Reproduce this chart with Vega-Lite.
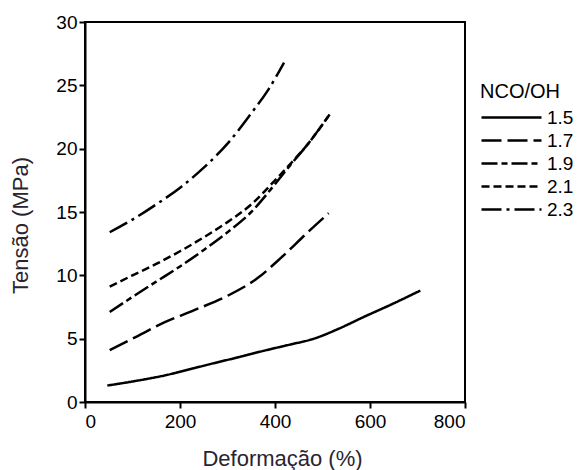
{
  "$schema": "https://vega.github.io/schema/vega-lite/v6.json",
  "width": 380,
  "height": 380,
  "autosize": {"type": "none"},
  "padding": {"left": 85, "top": 22, "right": 114, "bottom": 68},
  "background": "white",
  "config": {
    "view": {"stroke": "black", "strokeWidth": 2},
    "axis": {
      "grid": false,
      "domainColor": "black",
      "domainWidth": 2,
      "tickColor": "black",
      "tickWidth": 2,
      "tickSize": 6,
      "labelFont": "Liberation Sans Narrow, Arial Narrow, Liberation Sans",
      "labelFontSize": 19,
      "labelColor": "black",
      "titleFont": "Liberation Sans, Arial",
      "titleFontSize": 22,
      "titleFontWeight": "normal",
      "titleColor": "#2a2430"
    },
    "legend": {
      "titleFont": "Liberation Sans Narrow, Arial Narrow, Liberation Sans",
      "labelFont": "Liberation Sans Narrow, Arial Narrow, Liberation Sans",
      "titleFontSize": 20,
      "titleFontWeight": "normal",
      "labelFontSize": 19,
      "titleColor": "black",
      "labelColor": "black"
    }
  },
  "data": {
    "values": [
      {"ratio": "1.5", "x": 47, "y": 1.3},
      {"ratio": "1.5", "x": 100, "y": 1.62},
      {"ratio": "1.5", "x": 168, "y": 2.1},
      {"ratio": "1.5", "x": 220, "y": 2.58},
      {"ratio": "1.5", "x": 273, "y": 3.08},
      {"ratio": "1.5", "x": 330, "y": 3.6},
      {"ratio": "1.5", "x": 377, "y": 4.05},
      {"ratio": "1.5", "x": 430, "y": 4.52},
      {"ratio": "1.5", "x": 482, "y": 5.0},
      {"ratio": "1.5", "x": 535, "y": 5.8},
      {"ratio": "1.5", "x": 586, "y": 6.7},
      {"ratio": "1.5", "x": 645, "y": 7.7},
      {"ratio": "1.5", "x": 706, "y": 8.8},

      {"ratio": "1.7", "x": 52, "y": 4.1},
      {"ratio": "1.7", "x": 100, "y": 5.0},
      {"ratio": "1.7", "x": 168, "y": 6.3},
      {"ratio": "1.7", "x": 230, "y": 7.25},
      {"ratio": "1.7", "x": 301, "y": 8.4},
      {"ratio": "1.7", "x": 364, "y": 9.8},
      {"ratio": "1.7", "x": 413, "y": 11.4},
      {"ratio": "1.7", "x": 469, "y": 13.4},
      {"ratio": "1.7", "x": 513, "y": 14.9},

      {"ratio": "1.9", "x": 52, "y": 7.1},
      {"ratio": "1.9", "x": 100, "y": 8.3},
      {"ratio": "1.9", "x": 150, "y": 9.5},
      {"ratio": "1.9", "x": 200, "y": 10.7},
      {"ratio": "1.9", "x": 250, "y": 12.0},
      {"ratio": "1.9", "x": 300, "y": 13.4},
      {"ratio": "1.9", "x": 350, "y": 15.0},
      {"ratio": "1.9", "x": 400, "y": 17.2},
      {"ratio": "1.9", "x": 430, "y": 18.6},
      {"ratio": "1.9", "x": 470, "y": 20.4},
      {"ratio": "1.9", "x": 515, "y": 22.7},

      {"ratio": "2.1", "x": 52, "y": 9.1},
      {"ratio": "2.1", "x": 100, "y": 10.0},
      {"ratio": "2.1", "x": 150, "y": 10.9},
      {"ratio": "2.1", "x": 200, "y": 11.9},
      {"ratio": "2.1", "x": 250, "y": 13.0},
      {"ratio": "2.1", "x": 300, "y": 14.2},
      {"ratio": "2.1", "x": 350, "y": 15.6},
      {"ratio": "2.1", "x": 400, "y": 17.5},
      {"ratio": "2.1", "x": 430, "y": 18.7},
      {"ratio": "2.1", "x": 470, "y": 20.4},
      {"ratio": "2.1", "x": 515, "y": 22.7},

      {"ratio": "2.3", "x": 52, "y": 13.4},
      {"ratio": "2.3", "x": 100, "y": 14.4},
      {"ratio": "2.3", "x": 150, "y": 15.6},
      {"ratio": "2.3", "x": 203, "y": 17.0},
      {"ratio": "2.3", "x": 250, "y": 18.5},
      {"ratio": "2.3", "x": 300, "y": 20.4},
      {"ratio": "2.3", "x": 350, "y": 22.8},
      {"ratio": "2.3", "x": 385, "y": 24.6},
      {"ratio": "2.3", "x": 419, "y": 26.8}
    ]
  },
  "mark": {"type": "line", "color": "black", "strokeWidth": 2.5, "interpolate": "monotone"},
  "encoding": {
    "x": {
      "field": "x", "type": "quantitative",
      "scale": {"domain": [0, 800], "nice": false},
      "axis": {"values": [0, 200, 400, 600, 800], "title": "Deformação (%)", "labelPadding": 4,
               "titleX": 197, "titleY": 56, "titleBaseline": "middle", "titleAlign": "center"}
    },
    "y": {
      "field": "y", "type": "quantitative",
      "scale": {"domain": [0, 30], "nice": false},
      "axis": {"values": [0, 5, 10, 15, 20, 25, 30], "title": "Tensão (MPa)", "labelPadding": 2,
               "titleX": -65, "titleY": 203, "titleAngle": -90, "titleBaseline": "middle", "titleAlign": "center"}
    },
    "strokeDash": {
      "field": "ratio", "type": "nominal",
      "scale": {
        "domain": ["1.5", "1.7", "1.9", "2.1", "2.3"],
        "range": [[1, 0], [20, 6], [16, 4, 6, 4], [8, 4], [20, 5, 3, 5]]
      },
      "legend": {
        "title": "NCO/OH",
        "orient": "none",
        "legendX": 395,
        "legendY": 60,
        "symbolType": "M-3,0H3",
        "symbolSize": 400,
        "symbolStrokeWidth": 2.5,
        "symbolStrokeColor": "black",
        "symbolOffset": 20,
        "labelOffset": 24,
        "titlePadding": 4,
        "rowPadding": 1
      }
    }
  }
}
